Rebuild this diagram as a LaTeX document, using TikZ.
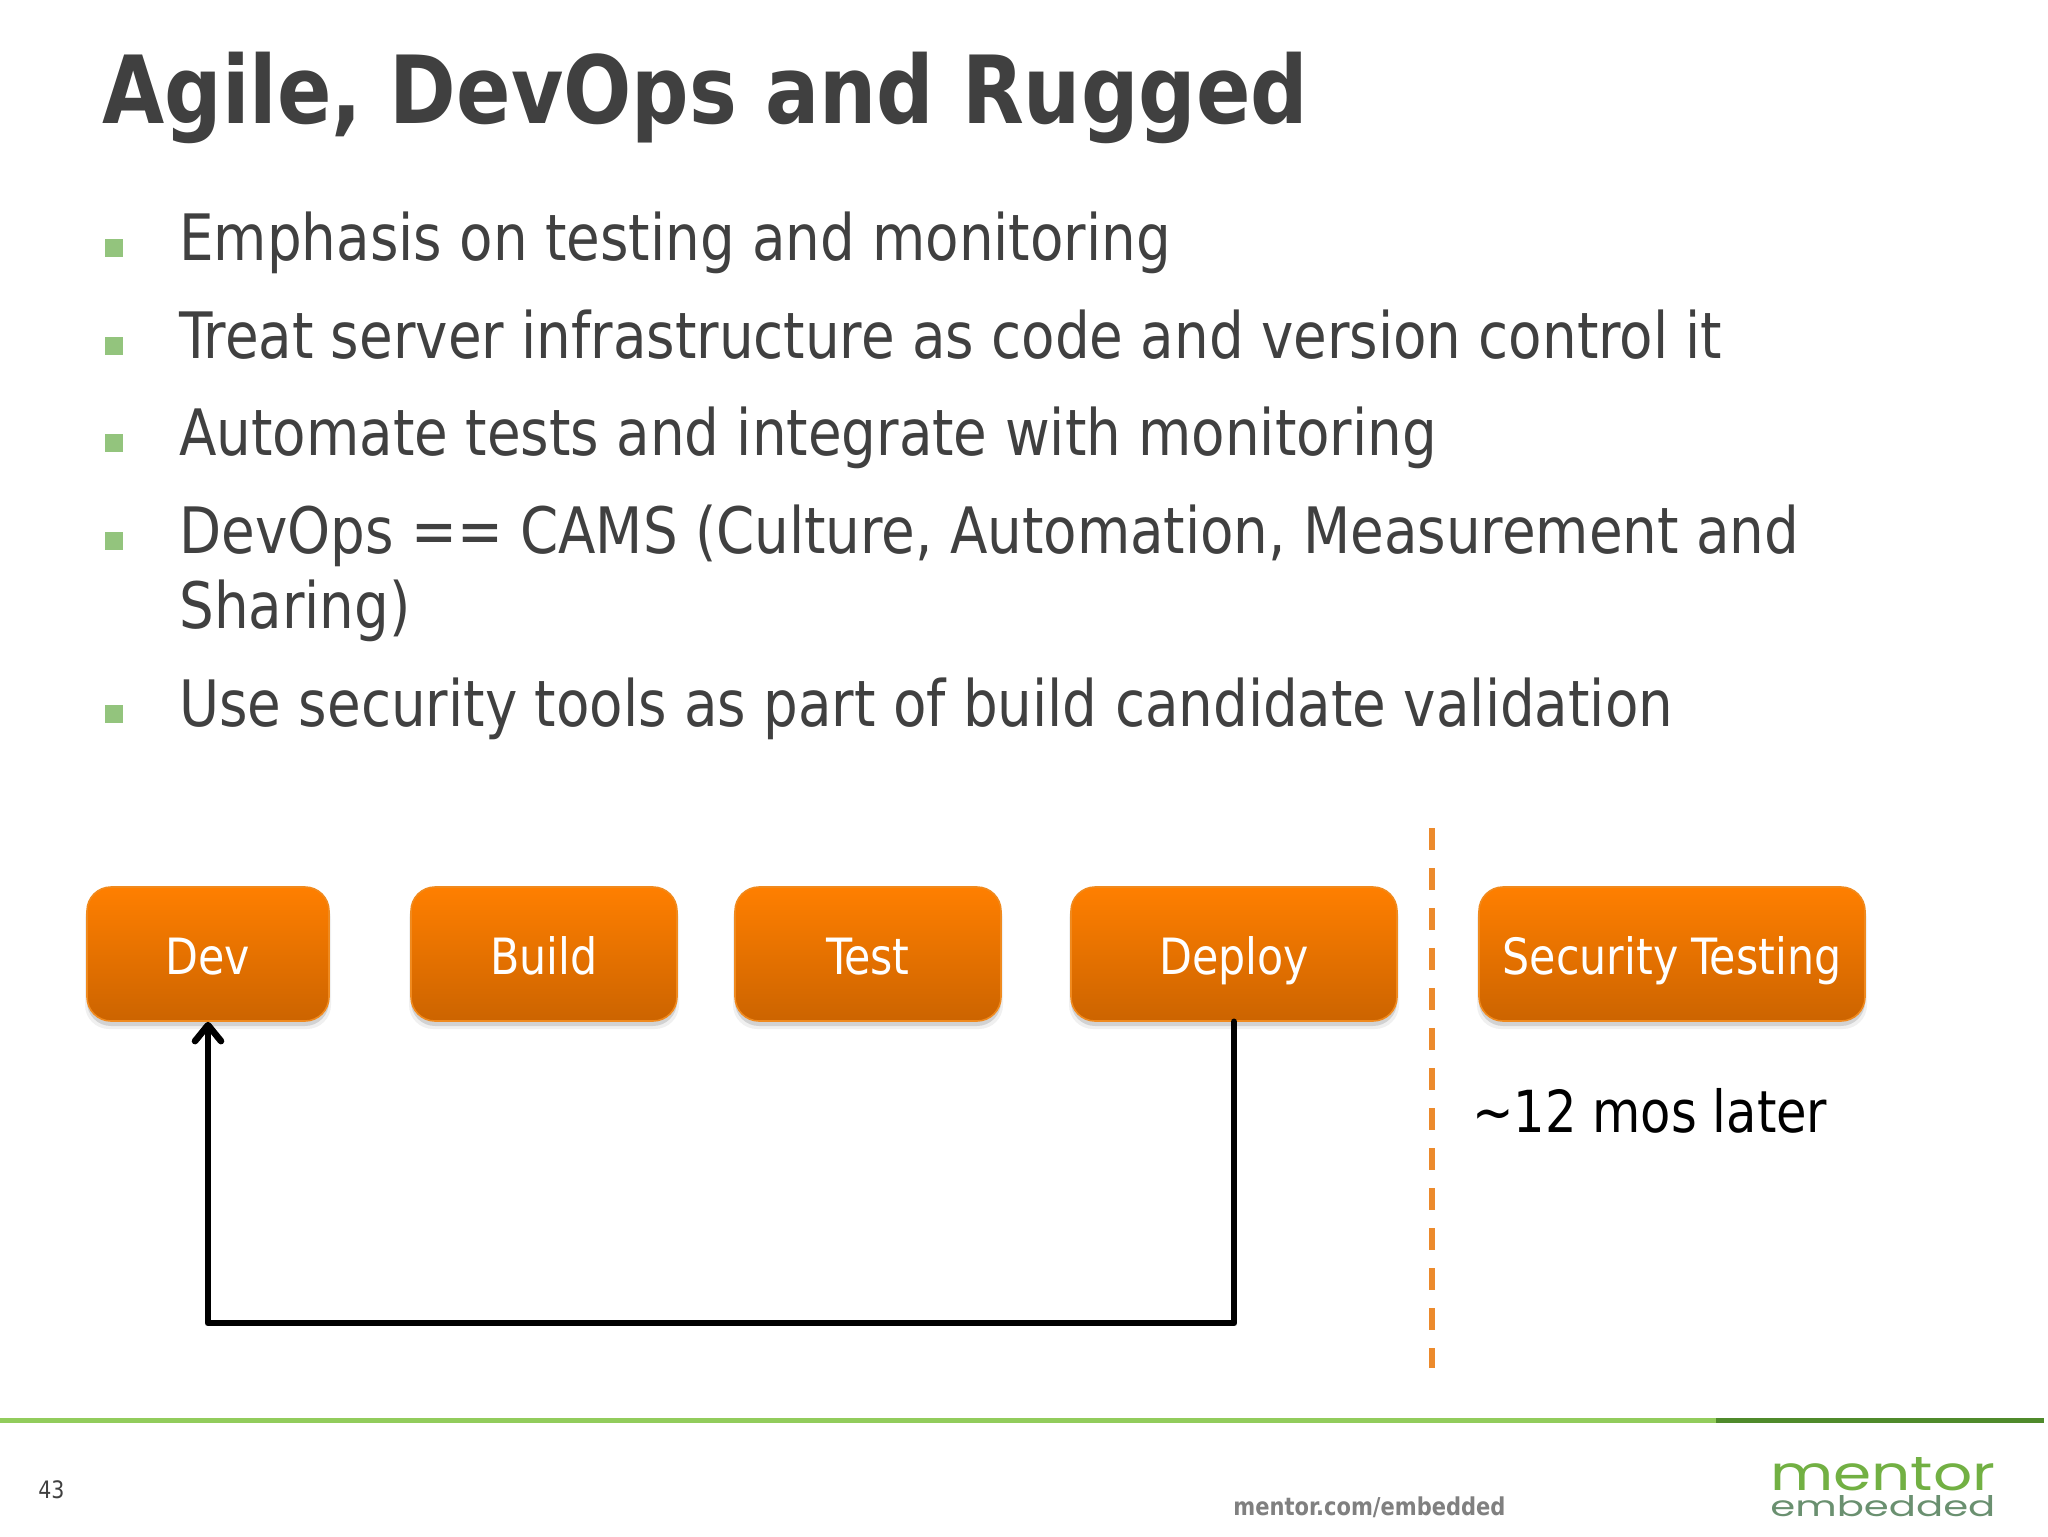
\documentclass[tikz,border=0pt]{standalone}
\usepackage{fontspec}
\usepackage{graphicx}
\usetikzlibrary{arrows.meta}
\setmainfont[FakeStretch=0.95]{DejaVu Sans Condensed}
\newfontfamily\logofont{Poppins}
\definecolor{txt}{HTML}{404040}
\definecolor{bul}{HTML}{93C47D}
\definecolor{boxtop}{HTML}{FF7F00}
\definecolor{boxmid}{HTML}{F37A00}
\definecolor{boxbot}{HTML}{CC6400}
\definecolor{boxedge}{HTML}{F08A1E}
\definecolor{dashc}{HTML}{EC8A2C}
\definecolor{glight}{HTML}{92CC5C}
\definecolor{gdark}{HTML}{4F8A2B}
\definecolor{lgreen}{HTML}{72B043}
\definecolor{lgray}{HTML}{6A9070}
\tikzset{
  title/.style={anchor=base west,inner sep=0pt,text=txt,font=\fontsize{47}{47}\selectfont\bfseries},
  bullettext/.style={anchor=base west,inner sep=0pt,text=txt,font=\fontsize{32}{32}\selectfont},
  bulletmark/.style={fill=bul,draw=none,minimum size=9pt,inner sep=0pt},
  stagebox/.style={draw=boxedge,line width=0.8pt,rounded corners=12pt,top color=boxtop,middle color=boxmid,bottom color=boxbot,
    text=white,minimum height=67pt,inner sep=0pt,text height=20pt,text depth=0pt,font=\fontsize{25}{25}\selectfont},
  flow/.style={line width=3.3pt,black,line cap=round,line join=round},
  sep/.style={line width=3pt,dashc,dash pattern=on 11pt off 9pt},
}
\begin{document}
\begin{tikzpicture}[x=0.5pt,y=-0.5pt]
\useasboundingbox (0,0) rectangle (2048,1536);
\fill[white] (0,0) rectangle (2048,1536);
\node[title] (ttl) at (102,124) {Agile, DevOps and Rugged};
\foreach \n/\yy in {a/248,b/346,c/443,d/541,e/714}{
  \node[bulletmark] (m\n) at (114,\yy) {};
}
\node[bullettext] (t1) at (179,260) {Emphasis on testing and monitoring};
\node[bullettext] (t2) at (179,358) {Treat server infrastructure as code and version control it};
\node[bullettext] (t3) at (179,455) {Automate tests and integrate with monitoring};
\node[bullettext] (t4) at (179,553) {DevOps == CAMS (Culture, Automation, Measurement and};
\node[bullettext] (t4b) at (179,628) {Sharing)};
\node[bullettext] (t5) at (179,726) {Use security tools as part of build candidate validation};
% shadows
\foreach \xa/\xb/\nm in {87/329/s1,411/677/s2,735/1001/s3,1071/1397/s4,1479/1865/s5}{
  \fill[black,opacity=0.06,rounded corners=12pt] (\xa-2,895) rectangle (\xb+2,1029);
  \fill[black,opacity=0.12,rounded corners=12pt] (\xa,892) rectangle (\xb,1026);
}
\node[stagebox,minimum width=121pt] (dev) at (208,954) {Dev};
\node[stagebox,minimum width=133pt] (build) at (544,954) {Build};
\node[stagebox,minimum width=133pt] (test) at (868,954) {Test};
\node[stagebox,minimum width=163pt] (deploy) at (1234,954) {Deploy};
\node[stagebox,minimum width=193pt] (sec) at (1672,954) {Security Testing};
\coordinate (turn) at (208,1323);
\draw[flow,-{Straight Barb[length=8pt,width=13pt,line cap=round,round]}] (deploy.south) |- (turn) -- (dev.south);
\coordinate (septop) at (1432,828);
\coordinate (sepbot) at (1432,1368);
\draw[sep] (septop) -- (sepbot);
\node[anchor=base west,inner sep=0pt,text=black,font=\fontsize{29}{29}\selectfont] (later) at (1472,1132) {\textasciitilde 12 mos later};
\coordinate (g0) at (0,1420);
\coordinate (g1) at (1716,1420);
\coordinate (g2) at (2044,1420);
\draw[glight,line width=2.5pt] (g0) -- (g1);
\draw[gdark,line width=2.5pt] (g1) -- (g2);
\node[anchor=base west,inner sep=0pt,text=txt,font=\fontsize{12}{12}\selectfont] (pg) at (38,1498) {43};
\node[anchor=base west,inner sep=0pt,text=gray,font=\fontsize{12.3}{12.3}\selectfont\bfseries] (url) at (1233,1515) {mentor.com/embedded};
\node[anchor=south west,inner sep=0pt,align=left,font=\logofont\fontsize{13}{13}\selectfont] (logo) at (1770,1517) {\textcolor{lgreen}{\resizebox{112.5pt}{16.5pt}{mentor}}\\\textcolor{lgray}{\resizebox{112.5pt}{10.5pt}{embedded}}};
\end{tikzpicture}
\end{document}
